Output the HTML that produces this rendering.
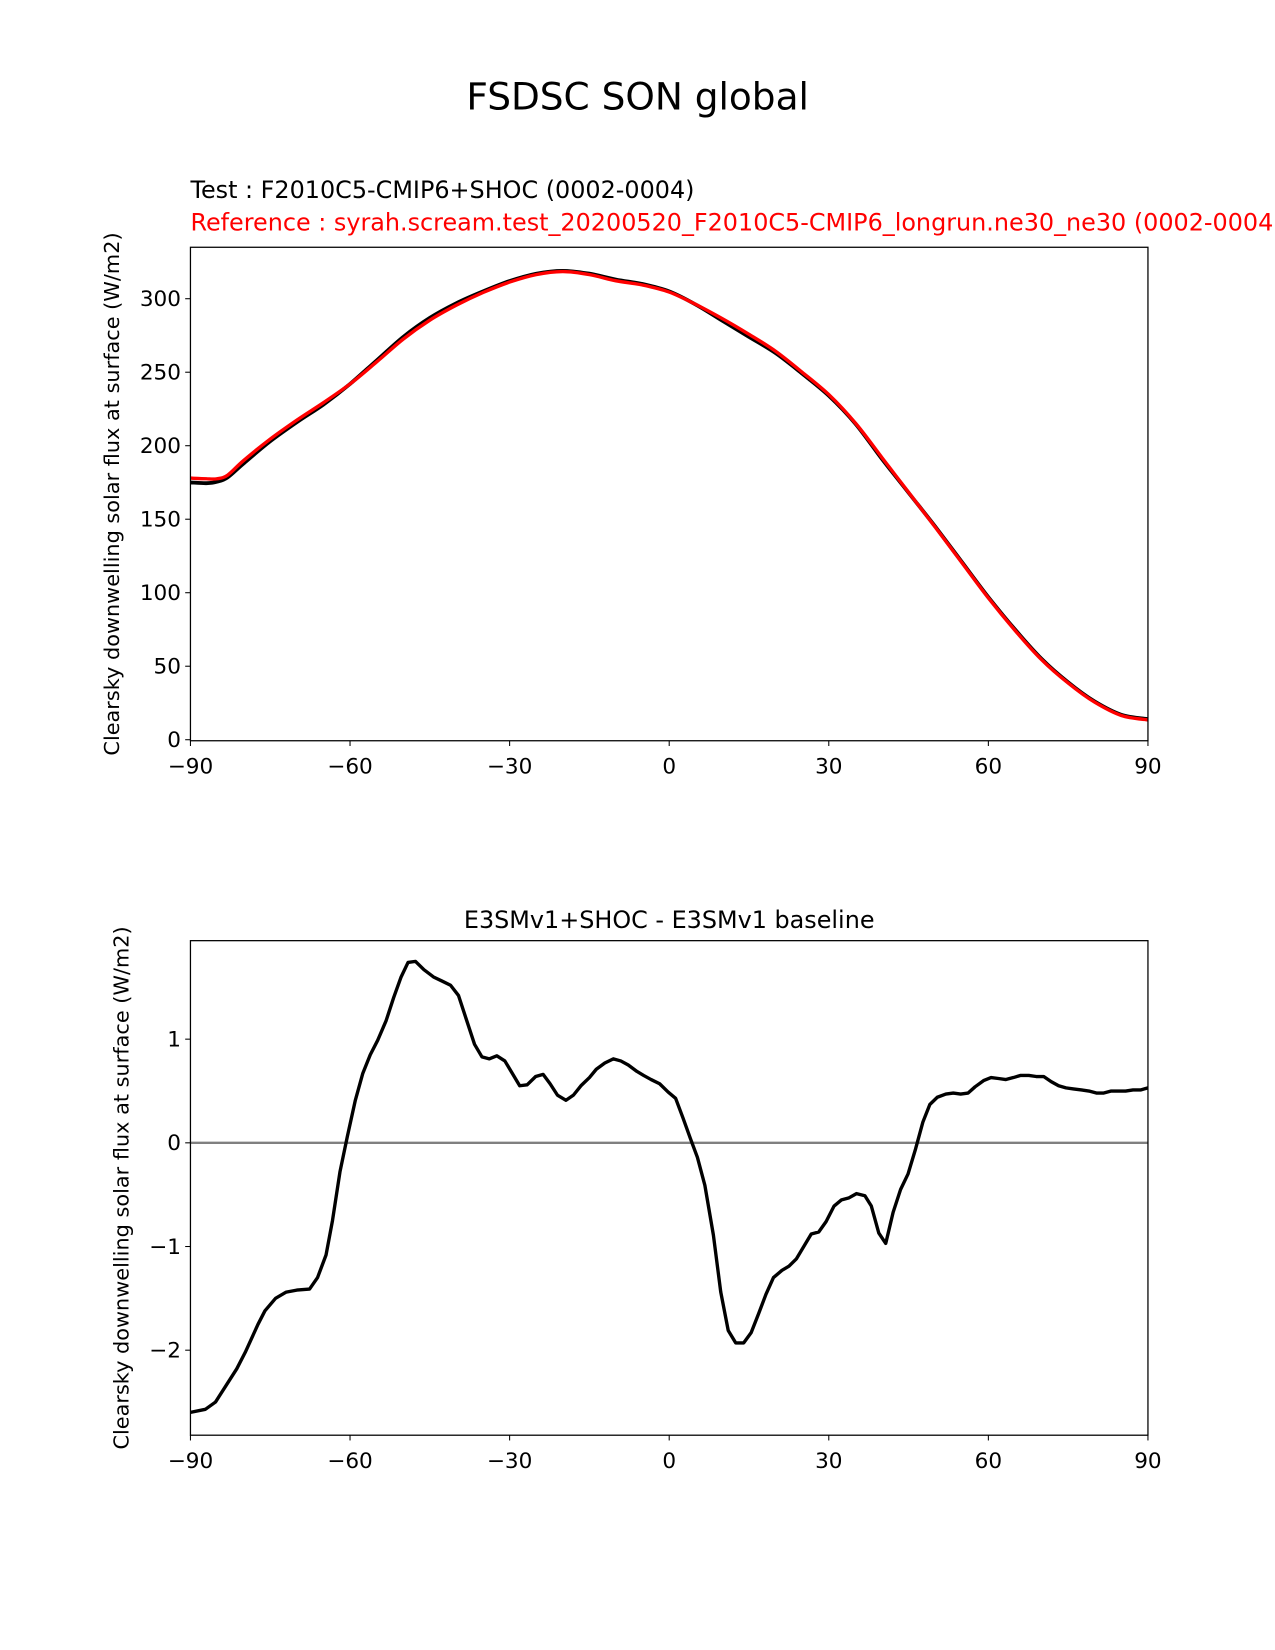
<!DOCTYPE html>
<html><head><meta charset="utf-8"><style>
body{margin:0;background:#fff}
svg{display:block;font-family:"DejaVu Sans","Liberation Sans",sans-serif}
</style></head><body>
<svg id="chart" width="1275" height="1650" viewBox="0 0 1275 1650" xmlns="http://www.w3.org/2000/svg">
<rect width="1275" height="1650" fill="#fff"/>
<g transform="scale(1.0522)">
<text x="606" y="104" font-size="35.6" text-anchor="middle">FSDSC SON global</text>
<text x="181" y="188" font-size="22.7">Test : F2010C5-CMIP6+SHOC (0002-0004)</text>
<text x="181" y="219" font-size="22.7" fill="#ff0000">Reference : syrah.scream.test_20200520_F2010C5-CMIP6_longrun.ne30_ne30 (0002-0004)</text>
<text x="636" y="882" font-size="22.7" text-anchor="middle">E3SMv1+SHOC - E3SMv1 baseline</text>
<g id="top"></g>
<g id="bot"></g>
</g>
</svg>
<script>
const topLats = [-90,-87,-85,-83,-80,-75,-70,-65,-60,-55,-50,-45,-40,-35,-30,-25,-20,-15,-10,-5,0,5,10,15,20,25,30,35,40,45,50,55,60,65,70,75,80,85,90];
const testValues = [175,174.5,175.5,178.5,188,203,216,228,242,258,274,287,297,305,312,317,319,317,313,310,305,296,285,274,263,249,234,215,191,168,145,121,97,75,55,39,26,17,14];
const refValues = [178,177.5,177.5,180,190,204.5,217.4,229.3,242,257,272.5,285.4,295.6,304.2,311.3,316.4,318.5,316.4,312.2,309.3,304.5,296.1,286.4,275.8,264.3,250,234.8,215.5,191.9,168.3,144.6,120.5,96.4,74.4,54.4,38.5,25.5,16.5,13.5];
const topYTicks = [0,50,100,150,200,250,300];
const xTicks = [-90,-60,-30,0,30,60,90];
const xTickLabels = ["\u221290","\u221260","\u221230","0","30","60","90"];
const diffLats = [-90,-87.2,-85.3,-83.3,-81.3,-79.7,-77.3,-76,-74,-72,-70,-67.6,-66.1,-64.5,-63.3,-61.9,-60.5,-59,-57.6,-56.2,-54.8,-53.2,-51.8,-50.4,-49.1,-47.7,-46.1,-44.3,-42.7,-41.1,-39.6,-38.2,-36.6,-35.2,-33.8,-32.4,-30.9,-29.5,-28.1,-26.7,-25.1,-23.7,-22.4,-21,-19.4,-18,-16.6,-15,-13.7,-12.1,-10.5,-9.1,-7.7,-6.1,-4.8,-3.4,-1.8,-0.2,1.2,2.6,4,5.3,6.7,8.3,9.7,11.1,12.5,14,15.4,16.8,18.2,19.6,21.2,22.5,23.9,25.3,26.7,28.1,29.5,31,32.4,33.8,35.2,36.8,38,39.4,40.7,42.1,43.5,44.9,46.3,47.7,49,50.4,52,53.4,54.8,56.2,57.5,59.1,60.5,61.9,63.3,64.7,66,67.6,69,70.4,71.8,73.2,74.6,76,77.5,78.9,80.3,81.7,83.1,84.5,85.8,87.2,88.6,90];
const diffValues = [-2.6,-2.57,-2.5,-2.34,-2.18,-2.02,-1.75,-1.62,-1.5,-1.44,-1.42,-1.41,-1.3,-1.08,-0.75,-0.28,0.06,0.41,0.67,0.85,0.99,1.18,1.4,1.6,1.74,1.75,1.67,1.6,1.56,1.52,1.42,1.2,0.95,0.83,0.81,0.84,0.79,0.67,0.55,0.56,0.64,0.66,0.57,0.46,0.41,0.46,0.55,0.63,0.71,0.77,0.81,0.79,0.75,0.69,0.65,0.61,0.57,0.49,0.43,0.24,0.04,-0.14,-0.41,-0.89,-1.44,-1.81,-1.93,-1.93,-1.83,-1.65,-1.46,-1.3,-1.23,-1.19,-1.12,-1.0,-0.88,-0.86,-0.76,-0.61,-0.55,-0.53,-0.49,-0.51,-0.61,-0.87,-0.97,-0.67,-0.45,-0.3,-0.06,0.2,0.37,0.44,0.47,0.48,0.47,0.48,0.54,0.6,0.63,0.62,0.61,0.63,0.65,0.65,0.64,0.64,0.59,0.55,0.53,0.52,0.51,0.5,0.48,0.48,0.5,0.5,0.5,0.51,0.51,0.53];
const botYTicks = [-2,-1,0,1];
const botYTickLabels = ["\u22122","\u22121","0","1"];

const NS="http://www.w3.org/2000/svg";
function mk(parent,tag,attrs,text){const e=document.createElementNS(NS,tag);for(const k in attrs)e.setAttribute(k,attrs[k]);if(text!==undefined)e.textContent=text;parent.appendChild(e);return e;}
const X0=181,X1=1091;
const xs=v=>X0+(v+90)/180*(X1-X0);

function panel(g,top,bottom,ymin,ymax,yTicks,yLabels,prefix){
  const ys=v=>bottom-(v-ymin)/(ymax-ymin)*(bottom-top);
  yTicks.forEach((t,i)=>{
    const tk=mk(g,'line',{x1:X0-5,x2:X0,y1:ys(t),y2:ys(t),stroke:'#000','stroke-width':1});
    
    
    const tl=mk(g,'text',{x:X0-9,y:ys(t)+7,'font-size':20.5,'text-anchor':'end'},yLabels[i]);
    
    
  });
  xTicks.forEach((t,i)=>{
    const tk=mk(g,'line',{x1:xs(t),x2:xs(t),y1:bottom,y2:bottom+5,stroke:'#000','stroke-width':1});
    
    
    const tl=mk(g,'text',{x:xs(t),y:bottom+31,'font-size':20.5,'text-anchor':'middle'},xTickLabels[i]);
    
    
  });
  const yl=mk(g,'text',{x:0,y:0,'font-size':19.8,'text-anchor':'middle',transform:`translate(${prefix==='top'?113:122},${(top+bottom)/2}) rotate(-90)`},'Clearsky downwelling solar flux at surface (W/m2)');
  
  
  return ys;
}
function line(g,lats,vals,ys,color,w,name,smooth){
  const P=lats.map((l,i)=>[xs(l),ys(vals[i])]);
  let d='M'+P[0][0].toFixed(1)+','+P[0][1].toFixed(1);
  for(let i=0;i<P.length-1;i++){
    if(!smooth){d+=' L'+P[i+1][0].toFixed(1)+','+P[i+1][1].toFixed(1);continue;}
    const p0=P[Math.max(0,i-1)],p1=P[i],p2=P[i+1],p3=P[Math.min(P.length-1,i+2)];
    const c1=[p1[0]+(p2[0]-p0[0])/6,p1[1]+(p2[1]-p0[1])/6];
    const c2=[p2[0]-(p3[0]-p1[0])/6,p2[1]-(p3[1]-p1[1])/6];
    d+=` C${c1[0].toFixed(1)},${c1[1].toFixed(1)} ${c2[0].toFixed(1)},${c2[1].toFixed(1)} ${p2[0].toFixed(1)},${p2[1].toFixed(1)}`;
  }
  const p=mk(g,'path',{d:d,fill:'none',stroke:color,'stroke-width':w,'stroke-linejoin':'round'});
  
  
}
const gt=document.getElementById('top');
const ysT=panel(gt,235,704,-0.7,335,topYTicks,topYTicks.map(String),'top');
line(gt,topLats,testValues,ysT,'#000',3.6,'test-line',true);
line(gt,topLats,refValues,ysT,'#ff0000',3.2,'reference-line',true);
const fT=mk(gt,'rect',{x:X0,y:235,width:X1-X0,height:469,fill:'none',stroke:'#000','stroke-width':1.2});



const gb=document.getElementById('bot');
const ysB=panel(gb,894,1364,-2.82,1.95,botYTicks,botYTickLabels,'bottom');
const zl=mk(gb,'line',{x1:X0,x2:X1,y1:ysB(0),y2:ysB(0),stroke:'#808080','stroke-width':2.2});


line(gb,diffLats,diffValues,ysB,'#000',3.2,'difference-line',false);
const fB=mk(gb,'rect',{x:X0,y:894,width:X1-X0,height:470,fill:'none',stroke:'#000','stroke-width':1.2});


</script>
</body></html>
